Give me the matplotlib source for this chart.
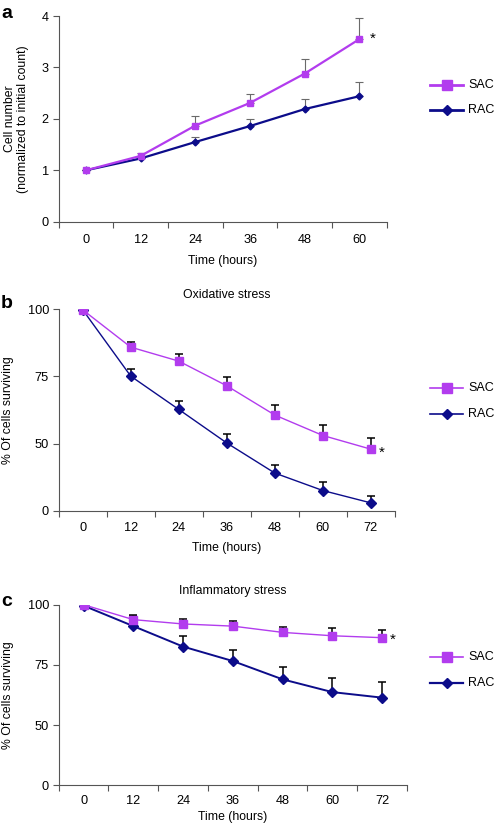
import matplotlib
matplotlib.use("Agg")
import matplotlib.pyplot as plt
import numpy as np

plt.rcParams['font.family'] = ['Liberation Sans', 'DejaVu Sans']

# Panel a
a_times = ['0', '12', '24', '36', '48', '60']
a_sac = [1.00, 1.28, 1.87, 2.31, 2.88, 3.55]
a_sac_err = [0.0, 0.05, 0.18, 0.18, 0.28, 0.42]
a_rac = [1.00, 1.23, 1.55, 1.86, 2.19, 2.44]
a_rac_err = [0.0, 0.03, 0.09, 0.14, 0.20, 0.27]

# Panel b (oxidative stress)
b_times = ['0', '12', '24', '36', '48', '60', '72']
b_sac = [99.8, 85.9, 80.7, 71.5, 60.6, 53.0, 47.9]
b_sac_err = [0.0, 1.9, 2.8, 3.4, 3.8, 4.0, 4.3]
b_rac = [99.8, 75.1, 62.7, 50.2, 39.0, 32.5, 27.9]
b_rac_err = [0.0, 2.8, 3.2, 3.4, 3.2, 3.2, 2.7]
b_yticks = [25, 50, 75, 100]
b_yticklabels = ['0', '50', '75', '100']

# Panel c (inflammatory stress)
c_times = ['0', '12', '24', '36', '48', '60', '72']
c_sac = [100.0, 93.8, 92.0, 91.1, 88.5, 87.1, 86.3]
c_sac_err = [0.0, 2.0, 2.0, 2.1, 2.4, 3.4, 3.3]
c_rac = [99.6, 91.1, 82.6, 76.6, 69.0, 63.7, 61.4]
c_rac_err = [0.0, 4.3, 4.5, 4.6, 5.0, 6.0, 6.4]
c_yticks = [25, 50, 75, 100]
c_yticklabels = ['0', '50', '75', '100']

SAC_C = '#B23CEE'
RAC_C = '#0C0C8A'
SPINE_C = '#555555'
FS_TICK = 9.2
FS_LAB = 8.8

fig = plt.figure(figsize=(4.94, 8.26), dpi=100)

def style_axes(ax, n, ylim, yticks, yticklabels, times, xpad, lpad=6):
    ax.set_xlim(-0.5, n - 0.5)
    ax.set_ylim(*ylim)
    for s in ['top', 'right']:
        ax.spines[s].set_visible(False)
    for s in ['left', 'bottom']:
        ax.spines[s].set_color(SPINE_C)
        ax.spines[s].set_linewidth(0.8)
    ax.set_xticks(np.arange(n + 1) - 0.5)
    ax.set_xticklabels([])
    ax.set_xticks(np.arange(n), minor=True)
    ax.set_xticklabels(times, minor=True, fontsize=FS_TICK)
    ax.tick_params(axis='x', which='major', length=4, color=SPINE_C, direction='out')
    ax.tick_params(axis='x', which='minor', length=0, pad=xpad)
    ax.set_yticks(yticks)
    ax.set_yticklabels(yticklabels, fontsize=FS_TICK)
    ax.tick_params(axis='y', length=4, color=SPINE_C, direction='out', pad=3)
    ax.set_xlabel('Time (hours)', fontsize=FS_LAB, labelpad=lpad)

def draw(ax, sac, sac_err, rac, rac_err, ecol, elw, sac_lw, rac_lw, ms_s, ms_r, cap):
    x = np.arange(len(sac))
    ax.errorbar(x, rac, yerr=[np.zeros(len(rac)), rac_err], fmt='none',
                ecolor=ecol, elinewidth=elw, capsize=cap, capthick=elw, zorder=2)
    ax.errorbar(x, sac, yerr=[np.zeros(len(sac)), sac_err], fmt='none',
                ecolor=ecol, elinewidth=elw, capsize=cap, capthick=elw, zorder=2)
    ax.plot(x, rac, color=RAC_C, lw=rac_lw, marker='D', ms=ms_r, zorder=3)
    ax.plot(x, sac, color=SAC_C, lw=sac_lw, marker='s', ms=ms_s, zorder=4)
    return x

def legend(fig, y_sac, y_rac, lw_s=2.0, lw_r=2.0):
    for y, col, mk, lab, ms, lw in [(y_sac, SAC_C, 's', 'SAC', 6.5, lw_s),
                                     (y_rac, RAC_C, 'D', 'RAC', 5.5, lw_r)]:
        yf = 1 - y / 826
        fig.add_artist(plt.Line2D([430 / 494, 463 / 494], [yf, yf], color=col, lw=lw,
                                  transform=fig.transFigure))
        fig.add_artist(plt.Line2D([446.5 / 494], [yf], color=col, marker=mk, ms=ms,
                                  transform=fig.transFigure))
        fig.text(468 / 494, yf, lab, fontsize=9.0, va='center', ha='left')

# ---- Panel a
axa = fig.add_axes([58.7 / 494, 1 - 221.7 / 826, 328 / 494, 205.7 / 826])
style_axes(axa, 6, (0, 4), [0, 1, 2, 3, 4], ['0', '1', '2', '3', '4'], a_times, 9)
x = draw(axa, a_sac, a_sac_err, a_rac, a_rac_err, '#6a6a6a', 0.8, 1.6, 1.6, 4.5, 3.5, 2.8)
axa.text(x[-1] + 0.25, a_sac[-1] + 0.0, '*', fontsize=11, ha='center', va='center')
axa.set_ylabel('Cell number\n(normalized to initial count)', fontsize=FS_LAB, labelpad=9)
legend(fig, 85, 110)
fig.text(1 / 494, 1 - 13 / 826, 'a', fontsize=14, fontweight='bold', va='center', ha='left')

# ---- Panel b
axb = fig.add_axes([58.7 / 494, 1 - 510.7 / 826, 336.3 / 494, 201.4 / 826])
style_axes(axb, 7, (25, 100), b_yticks, b_yticklabels, b_times, 8)
x = draw(axb, b_sac, b_sac_err, b_rac, b_rac_err, 'black', 1.1, 1.0, 1.0, 5.5, 5, 2.7)
axb.text(x[-1] + 0.22, b_sac[-1] - 1.5, '*', fontsize=11, ha='center', va='center')
axb.set_ylabel('% Of cells surviving', fontsize=FS_LAB, labelpad=10)
axb.set_title('Oxidative stress', fontsize=FS_LAB, pad=8)
legend(fig, 388.3, 414, 1.2, 1.2)
fig.text(1 / 494, 1 - 303 / 826, 'b', fontsize=14, fontweight='bold', va='center', ha='left')

# ---- Panel c
axc = fig.add_axes([58.7 / 494, 1 - 785.3 / 826, 348.3 / 494, 180.6 / 826])
style_axes(axc, 7, (25, 100), c_yticks, c_yticklabels, c_times, 7, lpad=3)
x = draw(axc, c_sac, c_sac_err, c_rac, c_rac_err, 'black', 1.1, 1.0, 1.4, 5.5, 5, 2.7)
axc.text(x[-1] + 0.22, c_sac[-1] - 0.8, '*', fontsize=11, ha='center', va='center')
axc.set_ylabel('% Of cells surviving', fontsize=FS_LAB, labelpad=10)
axc.set_title('Inflammatory stress', fontsize=FS_LAB, pad=8)
legend(fig, 657, 682.7, 1.2, 1.6)
fig.text(1 / 494, 1 - 601.7 / 826, 'c', fontsize=14, fontweight='bold', va='center', ha='left')

fig.savefig('out.png', dpi=100)
